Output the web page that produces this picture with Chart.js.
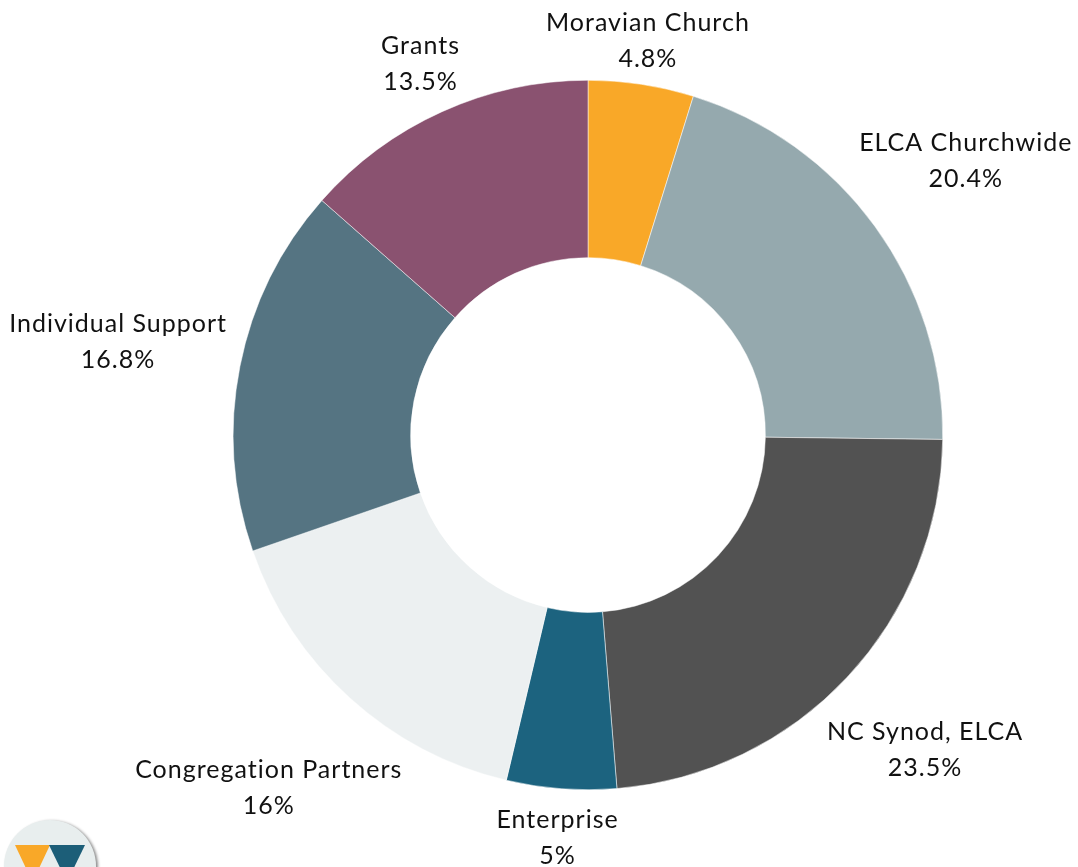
<!DOCTYPE html>
<html>
<head>
<meta charset="utf-8">
<script src="https://cdn.jsdelivr.net/npm/chart.js@4.4.1/dist/chart.umd.min.js"></script>
<style>
  html, body { margin: 0; padding: 0; background: #fff; }
  #wrap { width: 1078px; height: 867px; }
</style>
</head>
<body>
<div id="wrap"><canvas id="fundingChart" width="1078" height="867"></canvas></div>
<script>
const sources = ["Moravian Church", "ELCA Churchwide", "NC Synod, ELCA", "Enterprise",
  "Congregation Partners", "Individual Support", "Grants"];
const shares = [4.8, 20.4, 23.5, 5, 16, 16.8, 13.5];
const sliceColors = ["#F9A828", "#95A9AE", "#525252", "#1C637F", "#ECF0F1", "#557482", "#8A5270"];

const LABEL_FONT = "25px Lato";
const LINE_H = 36;

// Labels sit outside the ring, pushed out along each slice's middle angle
const outsideLabels = {
  id: "outsideLabels",
  afterDatasetsDraw(chart) {
    const ctx = chart.ctx;
    const meta = chart.getDatasetMeta(0);
    ctx.save();
    ctx.font = LABEL_FONT;
    ctx.letterSpacing = "1px";
    ctx.fillStyle = "#111111";
    ctx.textAlign = "center";
    ctx.textBaseline = "middle";
    meta.data.forEach((arc, i) => {
      const mid = (arc.startAngle + arc.endAngle) / 2;
      const gap = arc.outerRadius + 12;
      const lines = [sources[i], shares[i] + "%"];
      const hw = Math.max(...lines.map(t => ctx.measureText(t).width)) / 2;
      const top = LINE_H, bottom = LINE_H - 9;
      const ux = Math.cos(mid), uy = Math.sin(mid);
      // find distance where nearest point of the text box clears the ring
      let d = 0;
      for (; d < 800; d += 1) {
        const cx = ux * d, cy = uy * d;
        const nx = Math.max(cx - hw, Math.min(0, cx + hw));
        const ny = Math.max(cy - top, Math.min(0, cy + bottom));
        if (Math.hypot(nx, ny) >= gap) break;
      }
      const x = arc.x + ux * d, y = arc.y + uy * d;
      ctx.fillText(lines[0], x, y - LINE_H / 2);
      ctx.fillText(lines[1], x, y + LINE_H / 2);
    });
    ctx.restore();
  }
};

// small logo badge in the lower-left corner
const logoBadge = {
  id: "logoBadge",
  afterDraw(chart) {
    const ctx = chart.ctx;
    ctx.save();
    ctx.shadowColor = "rgba(0,0,0,0.45)";
    ctx.shadowOffsetX = 2;
    ctx.shadowOffsetY = 1;
    ctx.shadowBlur = 3;
    ctx.beginPath();
    ctx.arc(50, 866, 46, 0, Math.PI * 2);
    ctx.fillStyle = "#E8EEEE";
    ctx.fill();
    ctx.shadowColor = "transparent";
    ctx.fillStyle = "#F9A828";
    ctx.beginPath();
    ctx.moveTo(15, 845); ctx.lineTo(50, 845); ctx.lineTo(32.5, 882); ctx.closePath();
    ctx.fill();
    ctx.fillStyle = "#1C5E78";
    ctx.beginPath();
    ctx.moveTo(49, 845); ctx.lineTo(85, 845); ctx.lineTo(67, 882); ctx.closePath();
    ctx.fill();
    ctx.restore();
  }
};

new Chart(document.getElementById("fundingChart"), {
  type: "doughnut",
  data: {
    labels: sources,
    datasets: [{
      data: shares,
      backgroundColor: sliceColors,
      borderColor: "#ffffff",
      borderWidth: 0.5
    }]
  },
  options: {
    responsive: false,
    animation: false,
    cutout: "50%",
    layout: { padding: { top: 80, bottom: 77, left: 233, right: 135 } },
    plugins: { legend: { display: false }, tooltip: { enabled: false } }
  },
  plugins: [outsideLabels, logoBadge]
});
</script>
</body>
</html>
